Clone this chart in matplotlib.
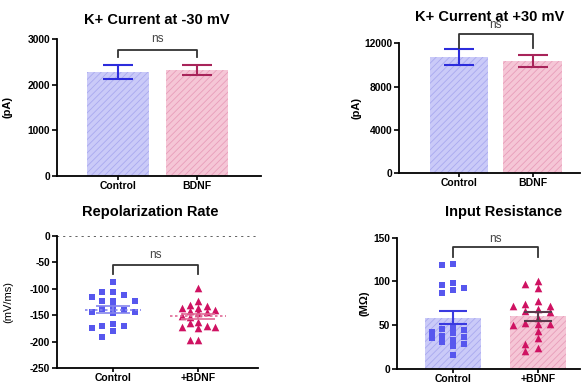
import numpy as np
import matplotlib
matplotlib.use("Agg")
import matplotlib.pyplot as plt

plt.rcParams['font.family'] = ['Liberation Sans', 'DejaVu Sans']
plt.rcParams['hatch.linewidth'] = 0.6

groups_a = ["Control", "BDNF"]
groups_b = ["Control", "+BDNF"]

# K+ current at -30 mV (mean, SEM) in pA
k30_mean = [2280, 2320]
k30_sem = [155, 115]
# K+ current at +30 mV (mean, SEM) in pA
k30p_mean = [10750, 10350]
k30p_sem = [760, 530]

# repolarization rate, mV/ms
rep_ctrl = [-87, -106, -106, -113, -116, -123, -123, -123, -138, -135,
            -145, -144, -147, -140, -171, -166, -175, -171, -181, -191]
rep_bdnf = [-98, -124, -131, -132, -141, -136, -137, -144, -143, -147,
            -154, -151, -170, -173, -172, -175, -163, -165, -198, -198]

# input resistance, MOhm
ir_ctrl = [120, 119, 90, 96, 87, 98, 92, 48, 41, 33,
           42, 37, 28, 45, 35, 26, 46, 38, 31, 16]
ir_bdnf = [97.5, 101, 92.5, 72, 69, 74, 72, 78, 66, 65,
           51, 50, 53, 58, 51, 43, 35, 29, 24, 20]

W, H = 581, 383
BLUE_FILL, BLUE_HATCH, BLUE = "#cacaf8", "#a9a9ef", "#2c2cdc"
PINK_FILL, PINK_HATCH, PINK = "#f5c6d6", "#e89dba", "#a8245a"
BLUE_PT, PINK_PT = "#5757ee", "#cf1262"


def px_axes(fig, l, r, b, t):
    return fig.add_axes([l / W, 1 - b / H, (r - l) / W, (b - t) / H])


def style(ax, ticks, labels, ylabel, lab_x, ylab_weight="bold"):
    for s in ["top", "right"]:
        ax.spines[s].set_visible(False)
    for s in ["left", "bottom"]:
        ax.spines[s].set_linewidth(1.3)
    ax.set_xticks([0, 1])
    ax.set_xticklabels(labels, fontsize=7.5, fontweight="bold")
    ax.set_yticks(ticks)
    ax.set_yticklabels([str(t) for t in ticks], fontsize=7.4, fontweight="bold")
    ax.tick_params(axis="y", length=3.5, width=1.2, pad=1.5)
    ax.tick_params(axis="x", length=3, width=1.2, pad=0.5)
    ax.set_ylabel(ylabel, fontsize=8, fontweight=ylab_weight)
    ax.yaxis.set_label_coords(lab_x, 0.5)


def bars(ax, means, width, fills, hatches):
    for i, m in enumerate(means):
        ax.bar(i, m, width, color=fills[i], edgecolor=hatches[i],
               hatch="/////", linewidth=0, zorder=1)


def bracket(ax, x0, x1, top, leg, ns_y):
    ax.plot([x0, x0, x1, x1], [leg, top, top, leg], color="#333333",
            lw=1.3, clip_on=False, zorder=5)
    ax.text((x0 + x1) / 2, ns_y, "ns", ha="center", va="center",
            fontsize=8.5, color="#444444", clip_on=False)


def swarm(vals, center, step, thr):
    order = np.argsort(vals)[::-1]
    placed = []
    xs = np.zeros(len(vals))
    slots = [0, -1, 1, -2, 2, -3, 3, -4, 4]
    for i in order:
        v = vals[i]
        for s in slots:
            if all(not (ps == s and abs(pv - v) < thr) for ps, pv in placed):
                placed.append((s, v))
                xs[i] = center + s * step
                break
    return xs


def title(txt, x, y):
    fig.text(x / W, 1 - y / H, txt, ha="center", va="center",
             fontsize=10.5, fontweight="bold")


fig = plt.figure(figsize=(W / 100, H / 100), dpi=100)

# panel 1
ax1 = px_axes(fig, 57, 261, 176, 39)
bars(ax1, k30_mean, 0.79, [BLUE_FILL, PINK_FILL], [BLUE_HATCH, PINK_HATCH])
for i, c in enumerate([BLUE, PINK]):
    ax1.errorbar(i, k30_mean[i], yerr=k30_sem[i], color=c, capsize=11,
                 lw=1.5, capthick=1.5, zorder=3)
ax1.set_xlim(-0.772, 1.81)
ax1.set_ylim(0, 3000)
style(ax1, [0, 1000, 2000, 3000], groups_a, "(pA)", -0.216)
bracket(ax1, 0, 1, 2760, 2610, 2990)
title("K+ Current at -30 mV", 157, 20)

# panel 2
ax2 = px_axes(fig, 399, 580, 173, 43.3)
bars(ax2, k30p_mean, 0.79, [BLUE_FILL, PINK_FILL], [BLUE_HATCH, PINK_HATCH])
for i, c in enumerate([BLUE, PINK]):
    ax2.errorbar(i, k30p_mean[i], yerr=k30p_sem[i], color=c, capsize=11,
                 lw=1.5, capthick=1.5, zorder=3)
ax2.set_xlim(-0.816, 1.646)
ax2.set_ylim(0, 12000)
style(ax2, [0, 4000, 8000, 12000], groups_a, "(pA)", -0.206)
bracket(ax2, 0, 1, 12830, 11600, 13700)
title("K+ Current at +30 mV", 490, 17)

# panel 3
ax3 = px_axes(fig, 57, 258, 368, 235.7)
ax3.axhline(0, color="#555555", ls=(0, (1.2, 2.2)), lw=1.3, zorder=0)
for i, (vals, mk, col, ln, step) in enumerate([
        (rep_ctrl, "s", BLUE_PT, "#8484ee", 0.126),
        (rep_bdnf, "^", PINK_PT, "#e06a96", 0.098)]):
    vals = np.array(vals, float)
    xs = swarm(vals, i, step, 11.0)
    ax3.scatter(xs, vals, marker=mk, s=24 if mk == "s" else 30, color=col,
                linewidths=0, zorder=2)
    m = vals.mean()
    se = vals.std(ddof=1) / np.sqrt(len(vals))
    ax3.hlines(m, i - 0.33, i + 0.33, colors=ln, linestyles=(0, (1.5, 1.5)),
               lw=1.2, zorder=3)
    ax3.errorbar(i, m, yerr=se, color=ln, capsize=12, lw=1.2, capthick=1.2,
                 zorder=3)
ax3.set_xlim(-0.66, 1.7)
ax3.set_ylim(-250, 0)
style(ax3, [0, -50, -100, -150, -200, -250], groups_b, "(mV/ms)", -0.217,
      ylab_weight="normal")
bracket(ax3, 0, 1, -55, -73, -37)
title("Repolarization Rate", 150, 212)

# panel 4
ax4 = px_axes(fig, 397, 580, 369, 237.7)
ir_means = [np.mean(ir_ctrl), np.mean(ir_bdnf)]
bars(ax4, ir_means, 0.66, [BLUE_FILL, PINK_FILL], [BLUE_HATCH, PINK_HATCH])
for i, (vals, mk, col, ecol, step) in enumerate([
        (ir_ctrl, "s", BLUE_PT, "#3a3ae0", 0.126),
        (ir_bdnf, "^", PINK_PT, "#5b3a4c", 0.148)]):
    vals = np.array(vals, float)
    xs = swarm(vals, i, step, 6.8)
    ax4.scatter(xs, vals, marker=mk, s=24 if mk == "s" else 30, color=col,
                linewidths=0, zorder=2)
    se = vals.std(ddof=1) / np.sqrt(len(vals))
    ax4.errorbar(i, vals.mean(), yerr=se, color=ecol, capsize=10, lw=1.5,
                 capthick=1.5, zorder=3)
ax4.set_xlim(-0.661, 1.499)
ax4.set_ylim(0, 150)
style(ax4, [0, 50, 100, 150], groups_b, "(MΩ)", -0.148)
bracket(ax4, 0, 1, 139, 128, 149)
title("Input Resistance", 504, 212)

fig.savefig("out.png", dpi=100)
